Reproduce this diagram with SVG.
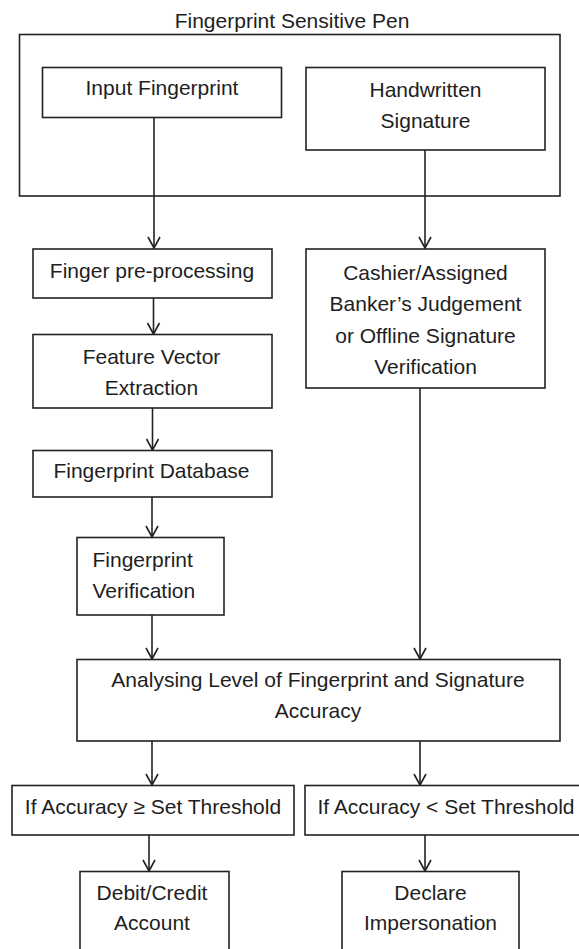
<svg xmlns="http://www.w3.org/2000/svg" width="579" height="949" viewBox="0 0 579 949">
<defs>
<style>
.box{fill:#fff;stroke:#222;stroke-width:1.6}
.frame{fill:none;stroke:#222;stroke-width:1.6}
.t{font-family:"Liberation Sans",Arial,sans-serif;font-size:21px;fill:#1e1e1e;text-anchor:middle}
.tl{font-family:"Liberation Sans",Arial,sans-serif;font-size:21px;fill:#1e1e1e;text-anchor:start}
.c{fill:none;stroke:#222;stroke-width:1.6}
</style>
<marker id="arr" markerUnits="userSpaceOnUse" markerWidth="30" markerHeight="30" refX="0" refY="0" orient="auto" overflow="visible">
<path d="M-11,-6 L0,0 L-11,6" fill="none" stroke="#222" stroke-width="1.6"/>
</marker>
</defs>
<rect width="579" height="949" fill="#fff"/>

<g id="pen">
<rect class="frame" x="19.5" y="34.5" width="540.5" height="161.5"/>
<text class="t" x="292" y="28">Fingerprint Sensitive Pen</text>
</g>

<g id="connectors">
<line class="c" x1="154" y1="117" x2="154" y2="248" marker-end="url(#arr)"/>
<line class="c" x1="425" y1="150" x2="425" y2="248" marker-end="url(#arr)"/>
<line class="c" x1="153.5" y1="298" x2="153.5" y2="334" marker-end="url(#arr)"/>
<line class="c" x1="152.5" y1="408" x2="152.5" y2="450" marker-end="url(#arr)"/>
<line class="c" x1="152" y1="497" x2="152" y2="537" marker-end="url(#arr)"/>
<line class="c" x1="152" y1="615" x2="152" y2="659" marker-end="url(#arr)"/>
<line class="c" x1="420" y1="388" x2="420" y2="659" marker-end="url(#arr)"/>
<line class="c" x1="152" y1="741" x2="152" y2="785" marker-end="url(#arr)"/>
<line class="c" x1="420" y1="741" x2="420" y2="785" marker-end="url(#arr)"/>
<line class="c" x1="149" y1="835" x2="149" y2="871" marker-end="url(#arr)"/>
<line class="c" x1="425" y1="835" x2="425" y2="871" marker-end="url(#arr)"/>
</g>

<g id="input-fingerprint">
<rect class="box" x="42.5" y="67.5" width="239" height="50"/>
<text class="t" x="162" y="95">Input Fingerprint</text>
</g>

<g id="handwritten-signature">
<rect class="box" x="306" y="67.5" width="239" height="82.5"/>
<text class="t" x="425.5" y="97">Handwritten</text>
<text class="t" x="425.5" y="128">Signature</text>
</g>

<g id="finger-preprocessing">
<rect class="box" x="33" y="249" width="239" height="49"/>
<text class="t" x="152" y="278">Finger pre-processing</text>
</g>

<g id="cashier-judgement">
<rect class="box" x="306" y="249" width="239" height="139"/>
<text class="t" x="425.5" y="280">Cashier/Assigned</text>
<text class="t" x="425.5" y="311">Banker’s Judgement</text>
<text class="t" x="425.5" y="343">or Offline Signature</text>
<text class="t" x="425.5" y="374">Verification</text>
</g>

<g id="feature-vector">
<rect class="box" x="33" y="334.5" width="239" height="73.5"/>
<text class="t" x="151.5" y="364">Feature Vector</text>
<text class="t" x="151.5" y="395">Extraction</text>
</g>

<g id="fingerprint-database">
<rect class="box" x="33" y="450.5" width="239" height="46.5"/>
<text class="t" x="151.5" y="478">Fingerprint Database</text>
</g>

<g id="fingerprint-verification">
<rect class="box" x="77" y="537.5" width="147" height="77.5"/>
<text class="tl" x="92.5" y="567">Fingerprint</text>
<text class="tl" x="92.5" y="598">Verification</text>
</g>

<g id="analysing">
<rect class="box" x="77" y="659.5" width="483" height="81.5"/>
<text class="t" x="318" y="687">Analysing Level of Fingerprint and Signature</text>
<text class="t" x="318" y="718">Accuracy</text>
</g>

<g id="accuracy-above">
<rect class="box" x="12" y="785.5" width="282" height="49.5"/>
<text class="t" x="153" y="814">If Accuracy ≥ Set Threshold</text>
</g>

<g id="accuracy-below">
<rect class="box" x="305" y="785.5" width="280" height="49.5"/>
<text class="t" x="446" y="814">If Accuracy &lt; Set Threshold</text>
</g>

<g id="debit-credit">
<rect class="box" x="80" y="871.5" width="149" height="85"/>
<text class="t" x="152" y="900">Debit/Credit</text>
<text class="t" x="152" y="930">Account</text>
</g>

<g id="declare-impersonation">
<rect class="box" x="342" y="871.5" width="177" height="85"/>
<text class="t" x="430.5" y="900">Declare</text>
<text class="t" x="430.5" y="930">Impersonation</text>
</g>
</svg>
